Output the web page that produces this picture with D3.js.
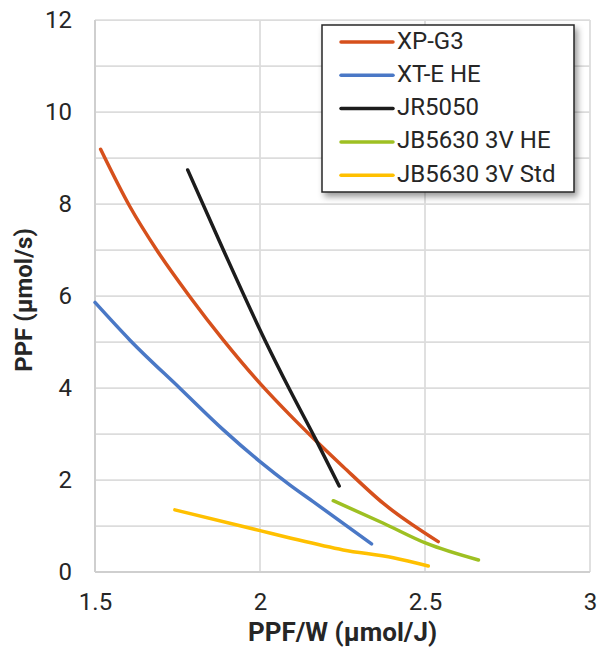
<!DOCTYPE html>
<html>
<head>
<meta charset="utf-8">
<script src="https://cdn.jsdelivr.net/npm/d3@7"></script>
<style>
  html, body { margin: 0; padding: 0; background: #fff; }
  svg { display: block; }
  text { font-family: Roboto, "Noto Sans", sans-serif; fill: #262626; }
</style>
</head>
<body>
<svg id="chart" width="597" height="658"></svg>
<script>
// ---- Data ----
const seriesNames = ["XP-G3", "XT-E HE", "JR5050", "JB5630 3V HE", "JB5630 3V Std"];
const seriesColors = ["#D6501C", "#4A78C6", "#1C1C1C", "#9EC022", "#FFC000"];

const xpg3X = [1.517, 1.606, 1.687, 1.788, 1.889, 2.0, 2.091, 2.167, 2.252, 2.374, 2.540];
const xpg3Y = [9.19, 7.94, 7.0, 5.98, 5.04, 4.1, 3.41, 2.87, 2.29, 1.49, 0.66];

const xteX = [1.5, 1.606, 1.758, 1.889, 2.0, 2.091, 2.161, 2.338];
const xteY = [5.86, 5.04, 3.99, 3.09, 2.4, 1.89, 1.53, 0.61];

const jr5050X = [1.781, 1.889, 2.015, 2.091, 2.167, 2.240];
const jr5050Y = [8.74, 7.0, 5.04, 3.95, 2.91, 1.87];

const jbHeX = [2.222, 2.374, 2.505, 2.662];
const jbHeY = [1.55, 1.06, 0.62, 0.26];

const jbStdX = [1.742, 2.0, 2.091, 2.252, 2.404, 2.510];
const jbStdY = [1.35, 0.90, 0.74, 0.48, 0.31, 0.13];

const xTicks = [1.5, 2, 2.5, 3];
const yTicks = [0, 2, 4, 6, 8, 10, 12];
const yGrid = [0, 1, 2, 3, 4, 5, 6, 7, 8, 9, 10, 11, 12];

const xTitle = "PPF/W (µmol/J)";
const yTitle = "PPF (µmol/s)";

// ---- Build ----
const seriesX = [xpg3X, xteX, jr5050X, jbHeX, jbStdX];
const seriesY = [xpg3Y, xteY, jr5050Y, jbHeY, jbStdY];
const series = seriesNames.map((name, i) => ({
  name, color: seriesColors[i],
  points: seriesX[i].map((x, j) => ({ x, y: seriesY[i][j] }))
}));

const svg = d3.select("#chart");
const margin = { left: 95, top: 20, right: 7, bottom: 86 };
const W = 597, H = 658;
const x = d3.scaleLinear().domain([1.5, 3]).range([margin.left, W - margin.right]);
const y = d3.scaleLinear().domain([0, 12]).range([H - margin.bottom, margin.top]);

const defs = svg.append("defs");
const f = defs.append("filter").attr("id", "shadow").attr("x", "-10%").attr("y", "-10%").attr("width", "130%").attr("height", "130%");
f.append("feDropShadow").attr("dx", 3).attr("dy", 4).attr("stdDeviation", 3)
  .attr("flood-color", "#000").attr("flood-opacity", 0.4);

// gridlines
const grid = svg.append("g");
grid.selectAll("line.h").data(yGrid).join("line")
  .attr("x1", x(1.5)).attr("x2", x(3))
  .attr("y1", d => y(d)).attr("y2", d => y(d))
  .attr("stroke", "#dcdcdc").attr("stroke-width", 1.75);
grid.selectAll("line.v").data(xTicks).join("line")
  .attr("y1", y(0)).attr("y2", y(12))
  .attr("x1", d => x(d)).attr("x2", d => x(d))
  .attr("stroke", "#dcdcdc").attr("stroke-width", 1.75);
// axis lines
svg.append("line").attr("x1", x(1.5)).attr("x2", x(1.5)).attr("y1", y(0)).attr("y2", y(12))
  .attr("stroke", "#cfcfcf").attr("stroke-width", 2);
svg.append("line").attr("x1", x(1.5)).attr("x2", x(3)).attr("y1", y(0)).attr("y2", y(0))
  .attr("stroke", "#cfcfcf").attr("stroke-width", 2);

// axes labels via d3 axes
const xAxis = d3.axisBottom(x).tickValues(xTicks).tickSize(0).tickPadding(21).tickFormat(d3.format("~g"));
const gx = svg.append("g").attr("transform", `translate(0,${y(0)})`).call(xAxis);
gx.select(".domain").remove();
gx.selectAll("text").style("font-size", "24px").style("font-family", "Roboto").attr("fill", "#262626");

const yAxis = d3.axisLeft(y).tickValues(yTicks).tickSize(0).tickPadding(23).tickFormat(d3.format("~g"));
const gy = svg.append("g").attr("transform", `translate(${x(1.5)},0)`).call(yAxis);
gy.select(".domain").remove();
gy.selectAll("text").style("font-size", "24px").style("font-family", "Roboto").attr("fill", "#262626");

// titles
svg.append("text").attr("x", (x(1.5) + x(3)) / 2).attr("y", 641)
  .attr("text-anchor", "middle").style("font-size", "26px").style("font-weight", "bold").text(xTitle);
svg.append("text").attr("transform", `translate(32,${(y(0) + y(12)) / 2 + 4}) rotate(-90)`)
  .attr("text-anchor", "middle").style("font-size", "24px").style("font-weight", "bold").text(yTitle);

// lines
const line = d3.line().x(d => x(d.x)).y(d => y(d.y)).curve(d3.curveMonotoneX);
svg.append("g").selectAll("path").data(series).join("path")
  .attr("d", d => line(d.points))
  .attr("fill", "none").attr("stroke", d => d.color)
  .attr("stroke-width", 3.5).attr("stroke-linecap", "round").attr("stroke-linejoin", "round");

// legend
const lg = svg.append("g");
lg.append("rect").attr("x", 322).attr("y", 25).attr("width", 252).attr("height", 167)
  .attr("fill", "#fff").attr("stroke", "#262626").attr("stroke-width", 1.5).attr("filter", "url(#shadow)");
const rows = lg.selectAll("g.row").data(series).join("g")
  .attr("transform", (d, i) => `translate(0,${42 + i * 33.3})`);
rows.append("line").attr("x1", 341).attr("x2", 393).attr("y1", 0).attr("y2", 0)
  .attr("stroke", d => d.color).attr("stroke-width", 3.5).attr("stroke-linecap", "round");
rows.append("text").attr("x", 397).attr("y", 0).attr("dy", 6.5)
  .style("font-size", "24px").text(d => d.name);
</script>
</body>
</html>
